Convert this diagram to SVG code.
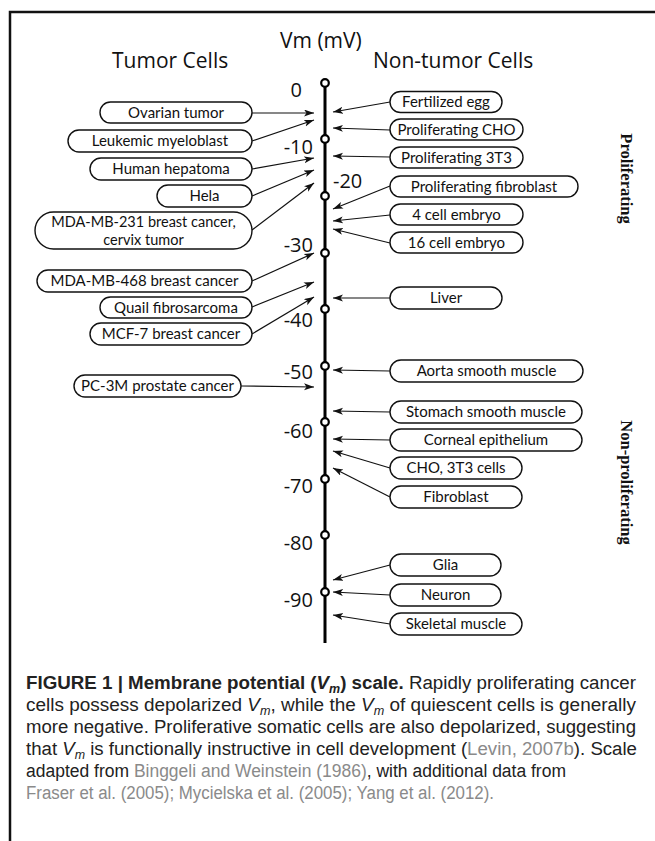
<svg xmlns="http://www.w3.org/2000/svg" width="655" height="841" viewBox="0 0 655 841">
<style>
.box{fill:#fff;stroke:#111;stroke-width:1.4}
.bt{font-family:Lato,"Open Sans",sans-serif;font-size:15px;fill:#111;text-anchor:middle}
.bt2{font-family:Lato,"Open Sans",sans-serif;font-size:14.5px;fill:#111;text-anchor:middle}
.hd{font-family:"Open Sans",Lato,sans-serif;font-size:21px;fill:#111}
.num{font-family:"Open Sans",Lato,sans-serif;font-size:20px;fill:#111;text-anchor:end}
.cn line{stroke:#111;stroke-width:1.2;marker-end:url(#ah)}
.tick{fill:#fff;stroke:#000;stroke-width:2.2}
.vt{font-family:"Liberation Serif",serif;font-weight:bold;font-size:16.5px;fill:#111;text-anchor:middle}
.cap{font-family:"Liberation Sans",Arial,sans-serif;font-size:18px;fill:#222}
.ref{fill:#8a8a8a}
</style>
<defs>
<marker id="ah" markerUnits="userSpaceOnUse" markerWidth="11" markerHeight="8" refX="10" refY="3.5" orient="auto">
<path d="M0,0 L10,3.5 L0,7 L2.5,3.5 z" fill="#111"/>
</marker>
</defs>
<rect width="655" height="841" fill="#fff"/>
<g id="frame"><path d="M10,841 L10,12 L655,12" fill="none" stroke="#111" stroke-width="2.5"/></g>
<g id="headers">
<text class="hd" x="280" y="48">Vm (mV)</text>
<text class="hd" x="112" y="68">Tumor Cells</text>
<text class="hd" x="373" y="68">Non-tumor Cells</text>
</g>
<g id="axis">
<line x1="325" y1="83" x2="325" y2="643" stroke="#000" stroke-width="3"/>
<circle class="tick" cx="325" cy="83" r="3.8"/>
<circle class="tick" cx="325" cy="139" r="3.8"/>
<circle class="tick" cx="325" cy="196" r="3.8"/>
<circle class="tick" cx="325" cy="253" r="3.8"/>
<circle class="tick" cx="325" cy="309" r="3.8"/>
<circle class="tick" cx="325" cy="366" r="3.8"/>
<circle class="tick" cx="325" cy="422" r="3.8"/>
<circle class="tick" cx="325" cy="479" r="3.8"/>
<circle class="tick" cx="325" cy="535" r="3.8"/>
<circle class="tick" cx="325" cy="592" r="3.8"/>
<text class="num" x="302" y="97">0</text>
<text class="num" x="313" y="154">-10</text>
<text class="num" x="333" y="188" style="text-anchor:start">-20</text>
<text class="num" x="313" y="252">-30</text>
<text class="num" x="313" y="327">-40</text>
<text class="num" x="313" y="379">-50</text>
<text class="num" x="313" y="438">-60</text>
<text class="num" x="313" y="493">-70</text>
<text class="num" x="313" y="550">-80</text>
<text class="num" x="313" y="607">-90</text>
</g>
<g id="connectors" class="cn">
<line x1="252" y1="113" x2="314" y2="113"/>
<line x1="252" y1="141" x2="314" y2="120"/>
<line x1="252" y1="169" x2="314" y2="158"/>
<line x1="252" y1="196" x2="314" y2="170"/>
<line x1="252" y1="230" x2="314" y2="183"/>
<line x1="252" y1="281" x2="314" y2="253"/>
<line x1="252" y1="307" x2="314" y2="282"/>
<line x1="252" y1="334" x2="314" y2="297"/>
<line x1="241" y1="386" x2="314" y2="387"/>
<line x1="390" y1="102" x2="333" y2="112"/>
<line x1="390" y1="130" x2="333" y2="128"/>
<line x1="390" y1="157" x2="333" y2="156"/>
<line x1="390" y1="186" x2="333" y2="209"/>
<line x1="390" y1="215" x2="333" y2="221"/>
<line x1="390" y1="243" x2="333" y2="229"/>
<line x1="390" y1="298" x2="333" y2="298"/>
<line x1="390" y1="371" x2="333" y2="370"/>
<line x1="390" y1="412" x2="333" y2="411"/>
<line x1="390" y1="440" x2="333" y2="439"/>
<line x1="390" y1="468" x2="333" y2="451"/>
<line x1="390" y1="497" x2="333" y2="468"/>
<line x1="390" y1="565" x2="333" y2="580"/>
<line x1="390" y1="595" x2="333" y2="592"/>
<line x1="390" y1="624" x2="333" y2="615"/>
</g>
<g id="n-ovarian"><rect class="box" x="100" y="102" width="152" height="21" rx="10.5"/><text class="bt" x="176" y="117.5">Ovarian tumor</text></g>
<g id="n-leukemic"><rect class="box" x="68" y="130" width="184" height="22" rx="11"/><text class="bt" x="160" y="146">Leukemic myeloblast</text></g>
<g id="n-hepatoma"><rect class="box" x="90" y="158" width="162" height="22" rx="11"/><text class="bt" x="171" y="174">Human hepatoma</text></g>
<g id="n-hela"><rect class="box" x="157" y="185" width="95" height="22" rx="11"/><text class="bt" x="204.5" y="201">Hela</text></g>
<g id="n-mda231"><rect class="box" x="35" y="212" width="217" height="37" rx="18.5"/><text class="bt2" x="143.5" y="227">MDA-MB-231 breast cancer,</text><text class="bt2" x="143.5" y="244.5">cervix tumor</text></g>
<g id="n-mda468"><rect class="box" x="37" y="270" width="215" height="22" rx="11"/><text class="bt" x="144.5" y="286">MDA-MB-468 breast cancer</text></g>
<g id="n-quail"><rect class="box" x="100" y="297" width="152" height="21" rx="10.5"/><text class="bt" x="176" y="312.5">Quail fibrosarcoma</text></g>
<g id="n-mcf7"><rect class="box" x="90" y="323" width="162" height="22" rx="11"/><text class="bt" x="171" y="339">MCF-7 breast cancer</text></g>
<g id="n-pc3m"><rect class="box" x="74" y="375" width="167" height="22" rx="11"/><text class="bt" x="157.5" y="391">PC-3M prostate cancer</text></g>
<g id="n-egg"><rect class="box" x="390" y="91.5" width="112" height="21" rx="10.5"/><text class="bt" x="446" y="107">Fertilized egg</text></g>
<g id="n-pcho"><rect class="box" x="390" y="119" width="133" height="21" rx="10.5"/><text class="bt" x="456.5" y="134.5">Proliferating CHO</text></g>
<g id="n-p3t3"><rect class="box" x="390" y="147" width="133" height="21" rx="10.5"/><text class="bt" x="456.5" y="162.5">Proliferating 3T3</text></g>
<g id="n-pfib"><rect class="box" x="390" y="176" width="188" height="21" rx="10.5"/><text class="bt" x="484" y="191.5">Proliferating fibroblast</text></g>
<g id="n-4cell"><rect class="box" x="390" y="204" width="133" height="21" rx="10.5"/><text class="bt" x="456.5" y="219.5">4 cell embryo</text></g>
<g id="n-16cell"><rect class="box" x="390" y="232" width="133" height="21" rx="10.5"/><text class="bt" x="456.5" y="247.5">16 cell embryo</text></g>
<g id="n-liver"><rect class="box" x="390" y="287" width="112" height="22" rx="11"/><text class="bt" x="446" y="303">Liver</text></g>
<g id="n-aorta"><rect class="box" x="390" y="360" width="193" height="22" rx="11"/><text class="bt" x="486.5" y="376">Aorta smooth muscle</text></g>
<g id="n-stomach"><rect class="box" x="390" y="401" width="192" height="22" rx="11"/><text class="bt" x="486" y="417">Stomach smooth muscle</text></g>
<g id="n-corneal"><rect class="box" x="390" y="429" width="192" height="22" rx="11"/><text class="bt" x="486" y="445">Corneal epithelium</text></g>
<g id="n-cho3t3"><rect class="box" x="390" y="457" width="132" height="22" rx="11"/><text class="bt" x="456" y="473">CHO, 3T3 cells</text></g>
<g id="n-fib"><rect class="box" x="390" y="486" width="132" height="22" rx="11"/><text class="bt" x="456" y="502">Fibroblast</text></g>
<g id="n-glia"><rect class="box" x="390" y="554" width="111" height="22" rx="11"/><text class="bt" x="445.5" y="570">Glia</text></g>
<g id="n-neuron"><rect class="box" x="390" y="584" width="111" height="22" rx="11"/><text class="bt" x="445.5" y="600">Neuron</text></g>
<g id="n-skeletal"><rect class="box" x="390" y="613" width="132" height="22" rx="11"/><text class="bt" x="456" y="629">Skeletal muscle</text></g>
<g id="side-labels">
<text class="vt" transform="translate(620.5,178.5) rotate(90)">Proliferating</text>
<text class="vt" transform="translate(620.5,482.5) rotate(90)">Non-proliferating</text>
</g>
<g id="caption" class="cap">
<text x="26" y="689" textLength="610" lengthAdjust="spacingAndGlyphs"><tspan font-weight="bold">FIGURE 1 | Membrane potential (</tspan><tspan font-weight="bold" font-style="italic">V</tspan><tspan font-weight="bold" font-style="italic" font-size="12" dy="4">m</tspan><tspan font-weight="bold" dy="-4">) scale.</tspan> Rapidly proliferating cancer</text>
<text x="26" y="711" textLength="610" lengthAdjust="spacingAndGlyphs">cells possess depolarized <tspan font-style="italic">V</tspan><tspan font-style="italic" font-size="12" dy="4">m</tspan><tspan dy="-4">, while the </tspan><tspan font-style="italic">V</tspan><tspan font-style="italic" font-size="12" dy="4">m</tspan><tspan dy="-4"> of quiescent cells is generally</tspan></text>
<text x="26" y="733" textLength="610" lengthAdjust="spacingAndGlyphs">more negative. Proliferative somatic cells are also depolarized, suggesting</text>
<text x="26" y="755" textLength="611" lengthAdjust="spacingAndGlyphs">that <tspan font-style="italic">V</tspan><tspan font-style="italic" font-size="12" dy="4">m</tspan><tspan dy="-4"> is functionally instructive in cell development (</tspan><tspan class="ref">Levin, 2007b</tspan>). Scale</text>
<text x="26" y="777" textLength="540" lengthAdjust="spacingAndGlyphs">adapted from <tspan class="ref">Binggeli and Weinstein (1986)</tspan>, with additional data from</text>
<text x="26" y="799" textLength="468" lengthAdjust="spacingAndGlyphs" class="ref">Fraser et al. (2005); Mycielska et al. (2005); Yang et al. (2012).</text>
</g>
</svg>
